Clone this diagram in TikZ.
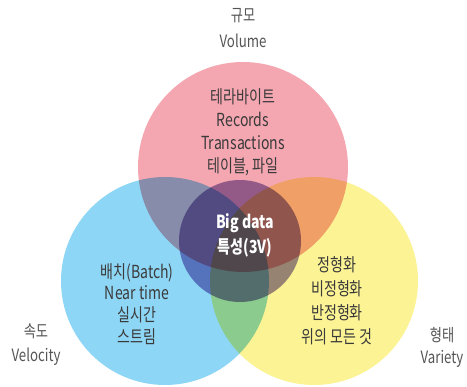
\documentclass[tikz,border=0pt]{standalone}
\usepackage{fontspec}
\setmainfont{Noto Sans CJK KR}[FakeStretch=0.78]
\definecolor{pinkc}{HTML}{F4A7B1}
\definecolor{bluec}{HTML}{8ED6F5}
\definecolor{yelc}{HTML}{FBF394}
\definecolor{corec}{HTML}{9A8AC4}
\definecolor{txt}{HTML}{3A3A3A}
\definecolor{lbl}{HTML}{555555}
\begin{document}
\begin{tikzpicture}[x=1pt,y=-1pt,
  ring/.style={circle, minimum size=#1, inner sep=0pt},
  body/.style={text=txt, font=\fontsize{18}{23}\selectfont, align=center, inner sep=0pt},
  lab/.style={text=lbl, font=\fontsize{17}{26}\selectfont, align=center, inner sep=0pt},
  coretext/.style={text=white, font=\bfseries\fontsize{18}{25}\selectfont, align=center, inner sep=0pt}]
\fill[white] (0,0) rectangle (467,387);
\useasboundingbox (0,0) rectangle (467,387);
\begin{scope}[blend group=multiply]
  \node[ring=210pt, fill=pinkc] (vol) at (243,167) {};
  \node[ring=208pt, fill=bluec] (vel) at (165,281) {};
  \node[ring=208pt, fill=yelc] (var) at (314,281) {};
  \node[ring=122pt, fill=corec] (core) at (240,241) {};
\end{scope}
\node[body] (voltext) at (243,132) {테라바이트\\Records\\Transactions\\테이블, 파일};
\node[body, font=\fontsize{18}{21.8}\selectfont] (veltext) at (137,304) {배치(Batch)\\Near time\\실시간\\스트림};
\node[body, font=\fontsize{18}{24}\selectfont] (vartext) at (337,301) {정형화\\비정형화\\반정형화\\위의 모든 것};
\node[coretext] (coret) at (245,235) {Big data\\특성(3V)};
\node[lab] (vollab) at (243,28) {규모\\Volume};
\node[lab, font=\fontsize{17}{24}\selectfont] (vellab) at (36,345) {속도\\Velocity};
\node[lab, font=\fontsize{17}{22}\selectfont] (varlab) at (442,347) {형태\\Variety};
\end{tikzpicture}
\end{document}
